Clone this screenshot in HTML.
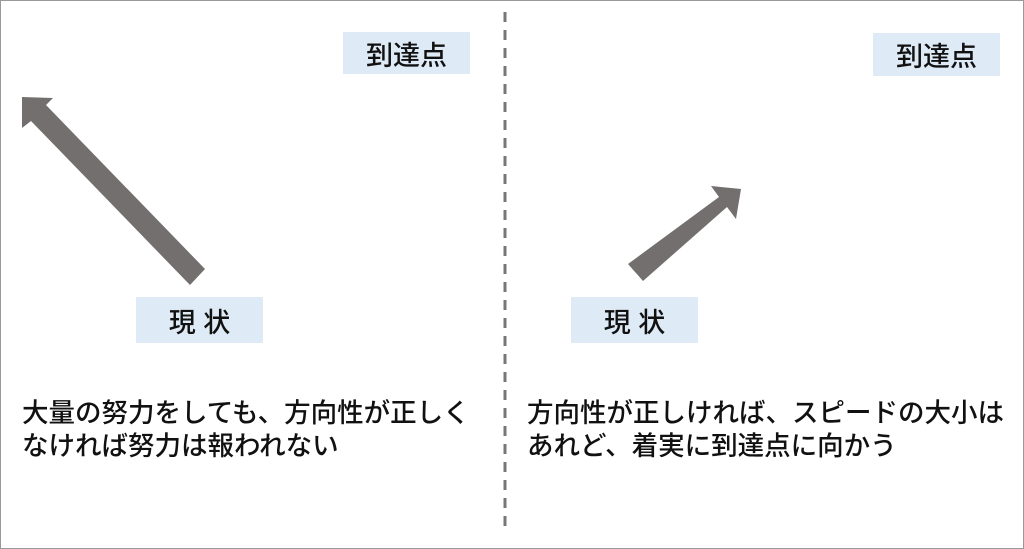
<!DOCTYPE html>
<html><head><meta charset="utf-8"><style>
body{margin:0;width:1024px;height:549px;background:#fff;position:relative;overflow:hidden;font-family:"Liberation Sans","Noto Sans CJK JP",sans-serif;}
.frame{position:absolute;left:0;top:0;width:1022px;height:547px;border:1px solid #999;}
.lbl{position:absolute;background:#deeaf6;color:#111;font-size:27px;display:flex;align-items:center;justify-content:center;font-weight:500;}
.t{position:absolute;font-size:26.5px;line-height:33px;color:#111;white-space:nowrap;font-weight:500;}
</style></head><body>
<div class="frame"></div>
<svg width="1024" height="549" style="position:absolute;left:0;top:0">
<line x1="505" y1="12" x2="505" y2="532" stroke="#777" stroke-width="3" stroke-dasharray="10,8"/>
<polygon points="22,97 53,98 46,105 205,269 190,285 31,121 22,128" fill="#736f6e"/>
<polygon points="741,189 736,219 727,207 643,281 628,264 719,197 711,186" fill="#736f6e"/>
</svg>
<div class="lbl" style="left:343px;top:32px;width:127px;height:42px">到達点</div>
<div class="lbl" style="left:873px;top:33px;width:127px;height:43px">到達点</div>
<div class="lbl" style="left:136px;top:297px;width:127px;height:46px">現 状</div>
<div class="lbl" style="left:571px;top:297px;width:127px;height:46px">現 状</div>
<div class="t" style="left:22px;top:397px">大量の努力をしても、方向性が正しく<br>なければ努力は報われない</div>
<div class="t" style="left:527px;top:397px">方向性が正しければ、スピードの大小は<br>あれど、着実に到達点に向かう</div>
</body></html>
